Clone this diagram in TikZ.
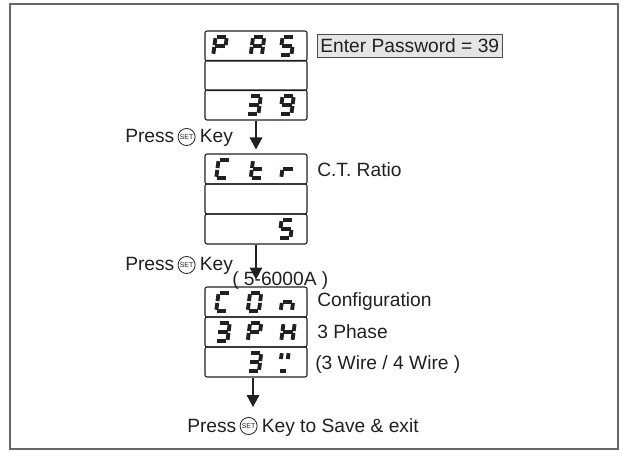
\documentclass[tikz,border=0pt]{standalone}
\usepackage{fontspec}
\setmainfont{Liberation Sans}
\usetikzlibrary{arrows.meta}

\definecolor{ink}{HTML}{231F20}
\tikzset{
  txt/.style={inner sep=0pt, font=\fontsize{14.4}{17}\selectfont, text=ink, anchor=base west},
  setkey/.style={circle, draw=ink, line width=0.6pt, inner sep=0pt, minimum size=12.8pt,
                 font=\fontsize{5.2}{5}\selectfont, text=ink},
  row/.style={rectangle, draw=ink, line width=0.8pt, rounded corners=1.5pt,
              minimum width=76.5pt, minimum height=22.5pt, inner sep=0pt},
  pwbox/.style={rectangle, draw=ink!80, line width=0.7pt, fill=black!10, inner xsep=2.2pt,
                inner ysep=0pt, minimum height=17.25pt, text=ink,
                font=\fontsize{14.4}{17}\selectfont, anchor=west},
  arr/.style={draw=ink, line width=0.9pt, -{Triangle[length=9pt,width=9.5pt]}},
  frame/.style={draw=black!60, line width=1.1pt},
  seg/.style={draw=ink, line width=2.9pt, line cap=butt},
}

\newcommand{\SSga}{\draw[seg] (-4.6,-8.8) -- (4.6,-8.8);}
\newcommand{\SSgb}{\draw[seg] (5.6,-7.8) -- (5.6,-0.9);}
\newcommand{\SSgc}{\draw[seg] (5.6,0.9) -- (5.6,7.8);}
\newcommand{\SSgd}{\draw[seg] (-4.6,8.8) -- (4.6,8.8);}
\newcommand{\SSge}{\draw[seg] (-5.6,0.9) -- (-5.6,7.8);}
\newcommand{\SSgf}{\draw[seg] (-5.6,-7.8) -- (-5.6,-0.9);}
\newcommand{\SSgg}{\draw[seg] (-4.6,0) -- (4.6,0);}
\newcommand{\SSgu}{\draw[seg] (-3.4,-8.8) -- (-3.4,-3); \draw[seg] (3.4,-8.8) -- (3.4,-3); \draw[seg] (-3.2,8.8) -- (3.2,8.8);}
\newcommand{\digitat}[3]{%
  \begin{scope}[shift={(#1,#2)}, xslant=0.13]
    \foreach \s in {#3}{\csname SSg\s\endcsname}
  \end{scope}}

\begin{document}
\begin{tikzpicture}[x=0.75pt, y=-0.75pt]
\useasboundingbox (0,0) rectangle (628,459);
\draw[frame] (10,4) rectangle (618,449);

% ---- display 1 ----
\node[row] (b1a) at (256,46) {};
\node[row] (b1b) at (256,75.5) {};
\node[row] (b1c) at (256,105) {};
\digitat{220}{46}{a,b,e,f,g}
\digitat{257.5}{46}{a,b,c,e,f,g}
\digitat{287}{46}{a,c,d,f,g}
\digitat{254}{105}{a,b,c,d,g}
\digitat{287}{105}{a,b,c,d,f,g}
\node[pwbox] (pw) at (317,45.5) {Enter Password = 39};

% ---- display 2 ----
\node[row] (b2a) at (256,169) {};
\node[row] (b2b) at (256,199) {};
\node[row] (b2c) at (256,229) {};
\digitat{223}{169}{a,d,e,f}
\digitat{257.5}{169}{d,e,f,g}
\digitat{288}{169}{e,g}
\digitat{286}{229}{a,c,d,f,g}
\node[txt] (ctr) at (317,177) {C.T. Ratio};

% ---- display 3 ----
\node[row] (b3a) at (256,302) {};
\node[row] (b3b) at (256,332) {};
\node[row] (b3c) at (256,362) {};
\digitat{223}{302}{a,d,e,f}
\digitat{254.5}{302}{a,b,c,d,e,f}
\digitat{287.5}{302}{c,e,g}
\digitat{223}{332}{a,b,c,d,g}
\digitat{254.5}{332}{a,b,e,f,g}
\digitat{288}{332}{b,c,e,f,g}
\digitat{254.5}{362}{a,b,c,d,g}
\digitat{284}{362}{u}
\node[txt] (con) at (317,307) {Configuration};
\node[txt] (ph) at (317,339) {3 Phase};
\node[txt] (wire) at (315,369) {(3 Wire / 4 Wire )};

% ---- press lines ----
\node[txt] (p1) at (125,143) {Press};
\node[setkey] (s1) at ([shift={(12,-6)}]p1.base east) {SET};
\node[txt] (k1) at ([xshift=3pt]s1.east |- p1.base) {Key};

\node[txt] (p2) at (125,271) {Press};
\node[setkey] (s2) at ([shift={(12,-6)}]p2.base east) {SET};
\node[txt] (k2) at ([xshift=3pt]s2.east |- p2.base) {Key};
\node[txt] (rng) at (232,286) {( 5-6000A )};

\node[txt] (p3) at (187,432) {Press};
\node[setkey] (s3) at ([shift={(12,-6)}]p3.base east) {SET};
\node[txt] (k3) at ([xshift=3pt]s3.east |- p3.base) {Key to Save \& exit};

% ---- arrows ----
\draw[arr] (b1c.south) -- ([yshift=3pt]b2a.north);
\draw[arr] (b2c.south) -- ([yshift=5.2pt]b3a.north);
\coordinate (e3) at (253,407);
\draw[arr] (b3c.south -| e3) -- (e3);
\end{tikzpicture}
\end{document}
